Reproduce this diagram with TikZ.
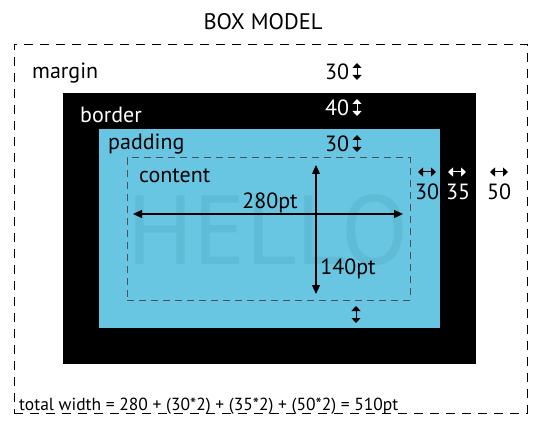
\documentclass[tikz,border=0pt]{standalone}
\usepackage{fontspec}
\setmainfont{PT Sans}
\usetikzlibrary{positioning, arrows.meta, calc}

\definecolor{padblue}{RGB}{104,198,226}
\definecolor{helloblue}{RGB}{95,187,214}
\definecolor{dashgray}{RGB}{80,80,80}

\tikzset{
  layer/.style={anchor=north west, inner sep=0pt, outer sep=0pt},
  lbl/.style={font=\fontsize{22}{26}\selectfont, inner sep=0pt, anchor=base west},
  num/.style={font=\fontsize{22}{26}\selectfont, inner sep=0pt, anchor=base},
  tick/.style={{Triangle[length=5pt,width=9pt]}-{Triangle[length=5pt,width=9pt]}, line width=1pt},
  dim/.style={{Triangle[length=9pt,width=8pt]}-{Triangle[length=9pt,width=8pt]}, line width=1.1pt}
}

\begin{document}
\begin{tikzpicture}[x=1pt,y=-1pt]
  \useasboundingbox (0,0) rectangle (537,443);
  % title
  \node[font=\fontsize{22.5}{26}\selectfont, inner sep=0pt, anchor=base] (title) at (263,30) {BOX MODEL};
  % the four layers
  \node[layer, draw, dashed, dash pattern=on 9pt off 7pt, line width=0.8pt,
        minimum width=513pt, minimum height=369pt] (marginbox) at (14,44) {};
  \node[layer, fill=black, minimum width=413pt, minimum height=271pt] (borderbox) at (63,93) {};
  \node[layer, fill=padblue, minimum width=341pt, minimum height=199pt] (paddingbox) at (99,129) {};
  \node[layer, draw=dashgray, dash pattern=on 7pt off 5pt, line width=1pt,
        minimum width=283pt, minimum height=142pt] (contentbox) at (127,158) {};
  % faded word
  \node[font=\fontsize{98}{98}\selectfont, text=helloblue, inner sep=0pt] (hello) at (268,230) {HELLO};
  % layer names
  \node[lbl] (marginlbl) at (32,79) {margin};
  \node[lbl, text=white] (borderlbl) at (80,123) {border};
  \node[lbl] (paddinglbl) at (108,150) {padding};
  \node[lbl] (contentlbl) at (139,183) {content};
  % top sizes
  \node[num] (mtop) at (337,80) {30};
  \node[num, text=white] (btop) at (337,116) {40};
  \node[num] (ptop) at (337,152) {30};
  \coordinate (ma) at (357,63); \coordinate (mb) at (357,80);
  \coordinate (ba) at (357,99); \coordinate (bb) at (357,116);
  \coordinate (pa) at (357,135); \coordinate (pb) at (357,152);
  \coordinate (qa) at (356,306); \coordinate (qb) at (356,323);
  \draw[tick] (ma) -- (mb);
  \draw[tick, white] (ba) -- (bb);
  \draw[tick] (pa) -- (pb);
  \draw[tick] (qa) -- (qb);
  % side sizes
  \node[num] (pside) at (427,200) {30};
  \node[num, text=white] (bside) at (458,200) {35};
  \node[num] (mside) at (499,200) {50};
  \foreach \n/\xx/\cc in {p/427/black, b/457/white, m/499/black}{
    \coordinate (\n l) at ({\xx-9},172);
    \coordinate (\n r) at ({\xx+9},172);
    \draw[tick, \cc] (\n l) -- (\n r);
  }
  % content dimensions
  \coordinate (wl) at (133,214); \coordinate (wr) at (403,214);
  \coordinate (ht) at (316,165); \coordinate (hb) at (316,294);
  \draw[dim] (wl) -- (wr);
  \draw[dim] (ht) -- (hb);
  \node[num] (wlbl) at (270,209) {280pt};
  \node[num] (hlbl) at (348,274) {140pt};
  % sum
  \node[font=\fontsize{17.5}{20}\selectfont, inner sep=0pt, anchor=base west] (total) at (19,410)
    {total width = 280 + (30*2) + (35*2) + (50*2) = 510pt};
\end{tikzpicture}
\end{document}
